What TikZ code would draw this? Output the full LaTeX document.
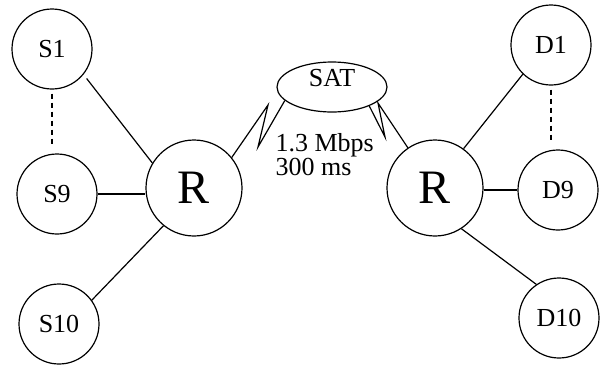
\documentclass[tikz,border=0pt]{standalone}
\usepackage{fontspec}
\setmainfont{Liberation Serif}
\usetikzlibrary{shapes.geometric}
\begin{document}
\begin{tikzpicture}[x=1pt,y=-1pt,line width=1.2pt,
  host/.style={circle,draw,minimum size=80pt,inner sep=0pt,font=\fontsize{26}{30}\selectfont},
  router/.style={circle,draw,minimum size=96pt,inner sep=0pt,font=\fontsize{48}{56}\selectfont},
  sat/.style={ellipse,draw,minimum width=110pt,minimum height=50pt,inner sep=0pt,text depth=18pt,font=\fontsize{26}{30}\selectfont},
  link/.style={draw},
  more/.style={draw,dash pattern=on 5pt off 4pt}]
\useasboundingbox (0,0) rectangle (600,365);

% sender side
\node[host] (S1) at (52,49) {S1};
\node[host] (S9) at (57,194) {S9};
\node[host] (S10) at (59,324) {S10};
\node[router] (R1) at (194,188) {R};

% receiver side
\node[host] (D1) at (551,45) {D1};
\node[host] (D9) at (558,190) {D9};
\node[host] (D10) at (559,318) {D10};
\node[router] (R2) at (435,188) {R};

% satellite
\node[sat] (SAT) at (332,87) {SAT};
\node[anchor=north west,align=left,inner sep=0pt,font=\fontsize{26}{24}\selectfont] (rate) at (275,133) {1.3 Mbps\\300 ms};

% access links
\draw[link,shorten <=5pt] (S1.-39) -- (R1.149);
\draw[link] (S9.east) -- (S9.east -| R1.west);
\draw[link] (R1.231) -- (S10.36);
\draw[more,shorten <=4pt,shorten >=6pt] (S1.south) -- (S1.south |- S9.north);

\draw[link] (R2.54) -- (D1.226);
\draw[link] (D9.west -| R2.east) -- (D9.west);
\draw[link] (R2.303) -- (D10.124);
\draw[more,shorten <=4pt,shorten >=6pt] (D1.south) -- (D1.south |- D9.north);

% satellite hops
\draw[link] (R1.39) -- (268,105) -- (258,147) -- (SAT.196);
\draw[link] (SAT.333) -- (385,137) -- (378,103) -- (R2.124);
\end{tikzpicture}
\end{document}
